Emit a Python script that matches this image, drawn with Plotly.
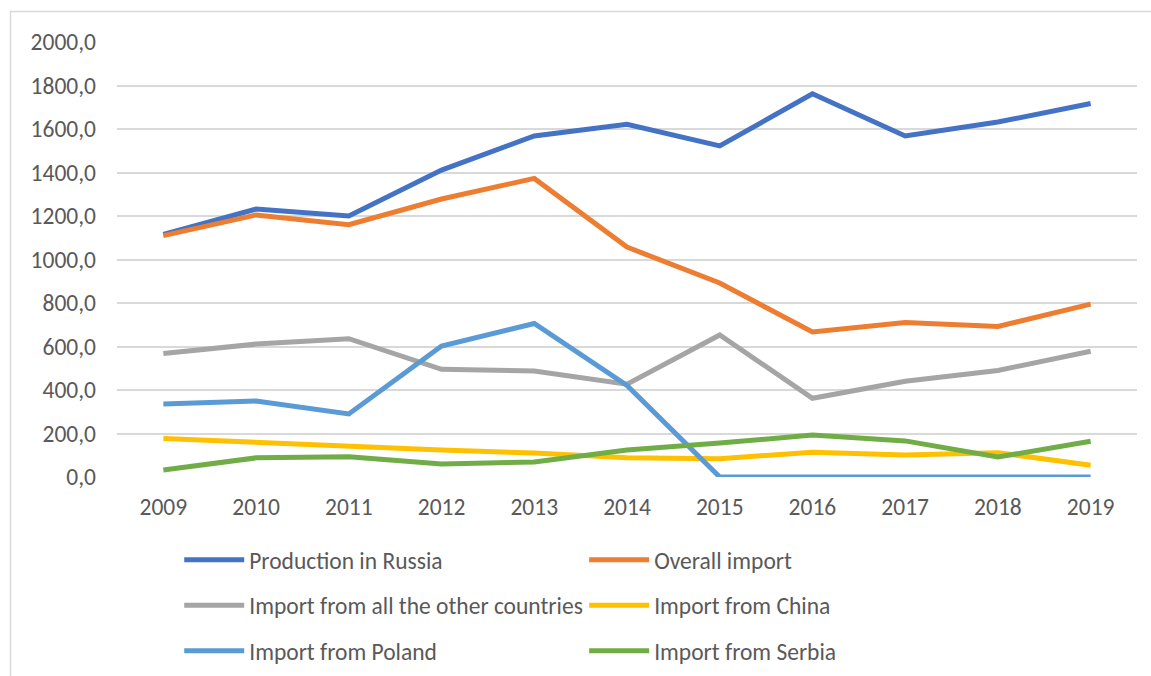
import plotly.graph_objects as go

years = ["2009", "2010", "2011", "2012", "2013", "2014", "2015", "2016", "2017", "2018", "2019"]
production_russia = [1115, 1232, 1200, 1411, 1568, 1622, 1522, 1762, 1568, 1632, 1717]
overall_import = [1110, 1205, 1160, 1278, 1373, 1057, 892, 667, 710, 692, 795]
import_other = [568, 611, 636, 495, 487, 427, 653, 362, 440, 490, 578]
import_china = [177, 158, 138, 124, 110, 88, 84, 114, 101, 112, 54]
import_poland = [336, 349, 290, 602, 706, 421, 0, 0, 0, 0, 0]
import_serbia = [32, 88, 93, 60, 69, 124, 156, 193, 166, 92, 164]

y_ticks = [0, 200, 400, 600, 800, 1000, 1200, 1400, 1600, 1800, 2000]

series = [
    ("Production in Russia", production_russia, "#4472C4", "legend"),
    ("Overall import", overall_import, "#ED7D31", "legend2"),
    ("Import from all the other countries", import_other, "#A5A5A5", "legend"),
    ("Import from China", import_china, "#FFC000", "legend2"),
    ("Import from Poland", import_poland, "#5B9BD5", "legend"),
    ("Import from Serbia", import_serbia, "#70AD47", "legend2"),
]

FONT = "Carlito, Lato, sans-serif"
TXT = "#595959"
FS = 23.5

fig = go.Figure()
for i, (name, vals, color, leg) in enumerate(series):
    fig.add_trace(go.Scatter(
        x=years, y=vals, name=name, mode="lines",
        line=dict(color=color, width=5),
        legend=leg, legendgroup=name,
    ))

legend_common = dict(
    orientation="v", yanchor="top", xanchor="left",
    font=dict(family=FONT, size=FS, color=TXT),
    bgcolor="rgba(0,0,0,0)", tracegroupgap=12, itemwidth=60,
)

PX0, PX1, PY0, PY1 = 117, 1137, 477, 42
W, H = PX1 - PX0, PY0 - PY1


def px(x):
    return (x - PX0) / W


def py(y):
    return (PY0 - y) / H


fig.update_layout(
    width=1151, height=676,
    margin=dict(l=117, r=14, t=42, b=199, autoexpand=False),
    paper_bgcolor="white", plot_bgcolor="white",
    separators=", ",
    font=dict(family=FONT, size=FS, color=TXT),
    showlegend=True,
    legend=dict(x=0.061, y=-0.14, **legend_common),
    legend2=dict(x=0.458, y=-0.14, **legend_common),
    xaxis=dict(
        type="category", range=[-0.5, 10.5], automargin=False,
        showgrid=False, zeroline=False, showline=False,
        ticks="", ticklabelstandoff=13,
        tickfont=dict(family=FONT, size=FS, color=TXT),
    ),
    yaxis=dict(
        range=[0, 2000], tickvals=y_ticks, tickformat=".1f", automargin=False,
        showgrid=True, gridcolor="#D9D9D9", gridwidth=1.5,
        zeroline=False, showline=False, ticks="",
        ticklabelstandoff=20,
        tickfont=dict(family=FONT, size=FS, color=TXT),
    ),
    shapes=[
        dict(type="line", xref="paper", yref="paper",
             x0=px(10), x1=px(1160), y0=py(11.5), y1=py(11.5),
             line=dict(color="#D9D9D9", width=1.5), layer="below"),
        dict(type="line", xref="paper", yref="paper",
             x0=px(10.5), x1=px(10.5), y0=py(11), y1=py(690),
             line=dict(color="#D9D9D9", width=1.5), layer="below"),
    ],
)

fig.write_html("out.html", config={"displayModeBar": False},
               post_script="document.body.style.margin='0';document.body.style.overflow='hidden';")
